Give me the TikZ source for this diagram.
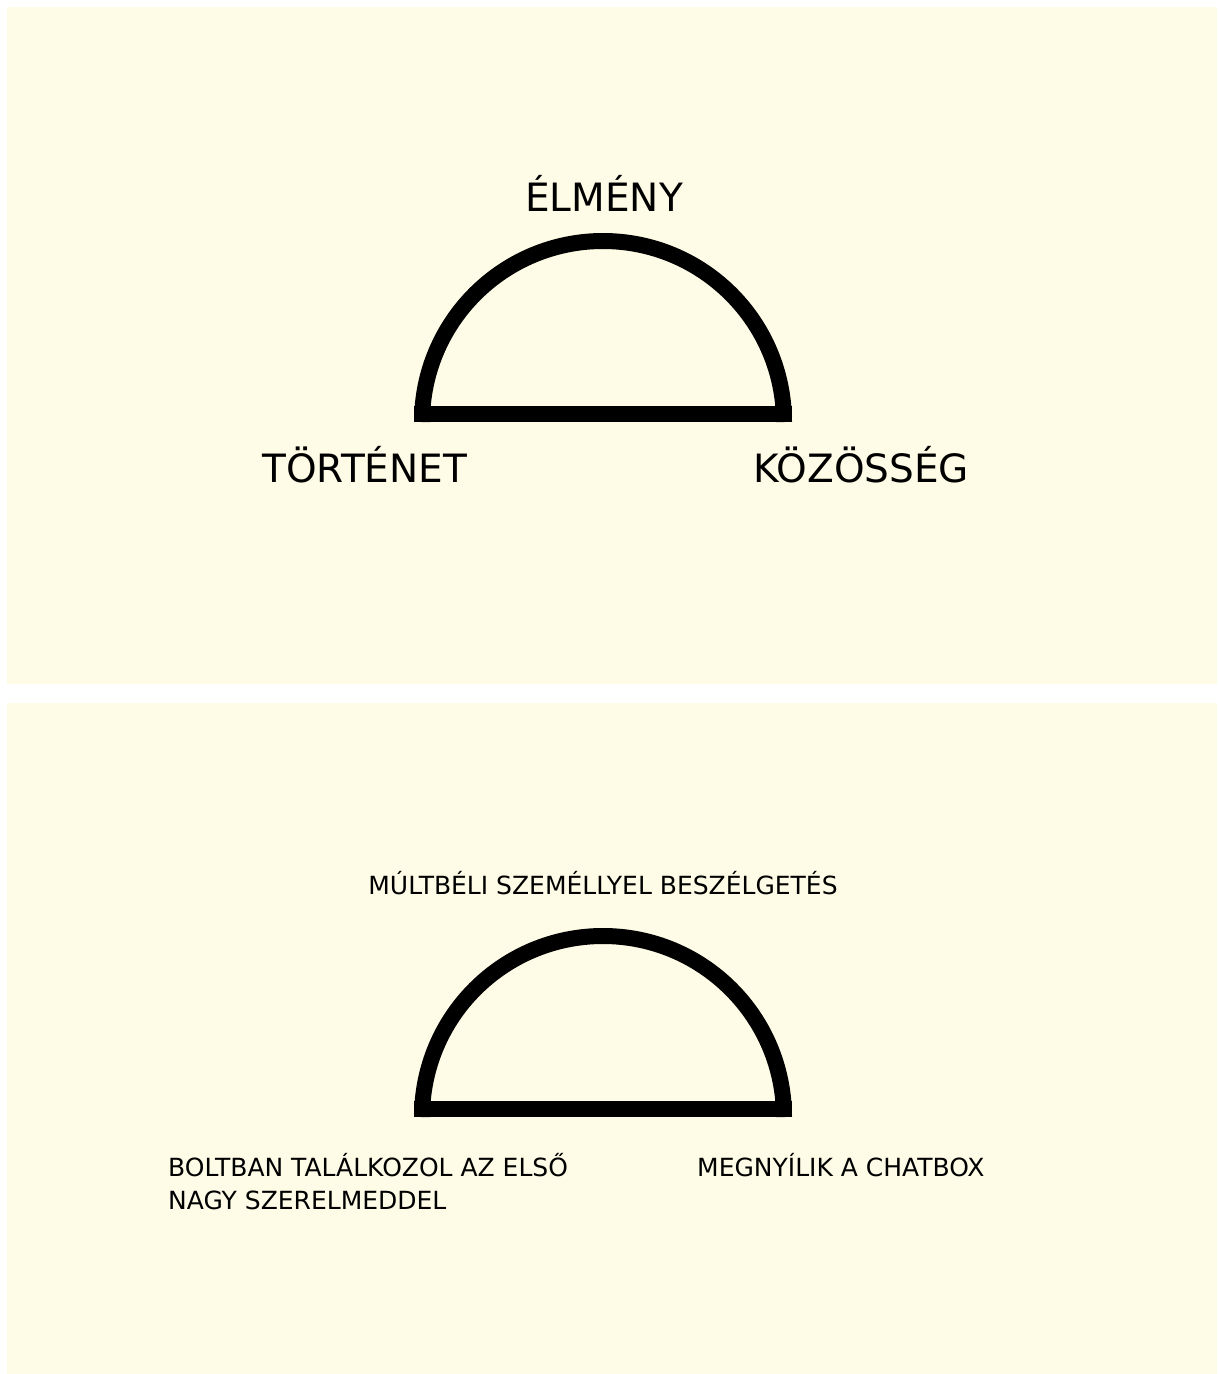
\documentclass[tikz,border=0pt]{standalone}
\usepackage{fontspec}
\setmainfont{DejaVu Sans}
\usetikzlibrary{positioning}
\definecolor{cream}{RGB}{254,251,230}

\begin{document}
\begin{tikzpicture}[x=1pt, y=-1pt, line cap=butt, line join=miter,
  panel/.style={fill=cream},
  half/.style={line width=16pt},
  big/.style={font=\fontsize{39}{44}\selectfont, inner sep=0pt},
  small/.style={font=\fontsize{25}{33}\selectfont, inner sep=0pt, align=left}]

\useasboundingbox (0,0) rectangle (1219,1374);
\fill[white] (0,0) rectangle (1219,1374);
\fill[panel] (7,7) rectangle (1217,684);
\fill[panel] (7,703) rectangle (1217,1374);

% upper panel
\draw[half] (422,422) arc (180:360:181);
\draw[half] (414,414) -- (792,414);
\node[big, anchor=base] (elmeny) at (604,211) {ÉLMÉNY};
\node[big, anchor=base west] (tortenet) at (262,482) {TÖRTÉNET};
\node[big, anchor=base west] (kozosseg) at (753,482) {KÖZÖSSÉG};

% lower panel
\draw[half] (422,1117) arc (180:360:181);
\draw[half] (414,1109) -- (792,1109);
\node[small, anchor=base] (multbeli) at (603,894) {MÚLTBÉLI SZEMÉLLYEL BESZÉLGETÉS};
\node[small, anchor=base west] (boltban) at (168,1209) {BOLTBAN TALÁLKOZOL AZ ELSŐ\\NAGY SZERELMEDDEL};
\node[small, anchor=base west] (chatbox) at (697,1176) {MEGNYÍLIK A CHATBOX};

\end{tikzpicture}
\end{document}
